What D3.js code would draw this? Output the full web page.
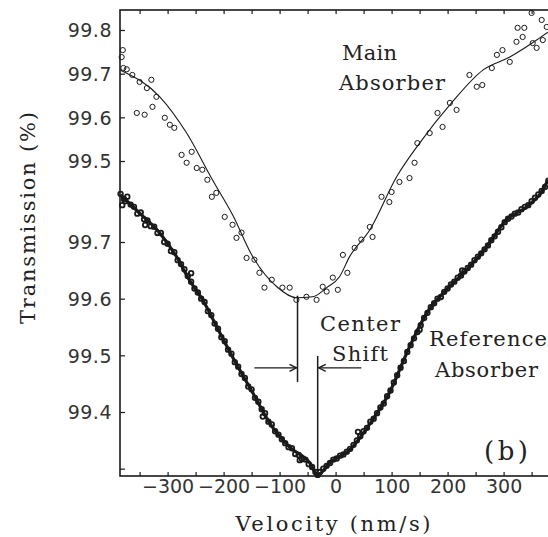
<!DOCTYPE html>
<html>
<head>
<meta charset="utf-8">
<script src="https://cdn.jsdelivr.net/npm/d3@7"></script>
<style>
  body { margin: 0; background: #fff; }
  svg { display: block; }
</style>
</head>
<body>
<svg id="chart"></svg>
<script>
// Mossbauer-style transmission spectra, main vs reference absorber

// velocity (nm/s), transmission (%) - main absorber, measured points
const mainVel = [-382,-380,-379,-373,-363,-350,-337,-329,-320,-355,-341,-327,-305,-296,-288,-275,-266,-257,-248,-238,
  -229,-221,-213,-198,-184,-177,-168,-159,-145,-136,-127,-114,-95,-82,-70,-52,-34,-23,-16,-5,
  4,13,21,34,46,66,61,82,96,100,114,132,141,146,168,182,191,204,216,239,
  252,262,279,288,298,311,323,325,337,334,352,359,370,368,350,377];
const mainT = [99.738,99.754,99.713,99.710,99.697,99.681,99.667,99.686,99.647,99.610,99.606,99.624,99.599,99.583,99.576,99.514,99.496,99.521,99.484,99.480,
  99.457,99.418,99.427,99.372,99.354,99.324,99.336,99.278,99.274,99.244,99.210,99.228,99.210,99.210,99.182,99.189,99.182,99.212,99.201,99.233,
  99.205,99.285,99.244,99.301,99.320,99.326,99.349,99.418,99.406,99.429,99.452,99.461,99.496,99.541,99.564,99.610,99.578,99.633,99.617,99.697,
  99.670,99.674,99.713,99.743,99.754,99.727,99.773,99.805,99.805,99.784,99.770,99.759,99.777,99.823,99.839,99.807];

// main absorber fitted curve
const mainFitVel = [-384,-314,-266,-220,-184,-148,-105,-70,-41,-16,7,25,61,109,150,207,263,311,359,379];
const mainFitT = [99.708,99.647,99.564,99.457,99.377,99.281,99.212,99.187,99.189,99.210,99.235,99.281,99.342,99.464,99.541,99.633,99.708,99.738,99.777,99.795];

// reference absorber, measured points
const refVel = [-384,-378,-372,-366,-360,-354,-348,-342,-336,-330,-324,-318,-312,-306,-300,-294,-288,-282,-276,-270,
  -264,-258,-252,-246,-240,-234,-228,-222,-216,-210,-204,-198,-192,-186,-180,-174,-168,-162,-156,-150,
  -144,-138,-132,-126,-120,-114,-108,-102,-96,-90,-84,-78,-72,-66,-60,-54,-48,-42,-36,-32,
  -28,-22,-16,-10,-4,2,8,14,20,26,32,38,44,50,56,62,68,74,80,86,
  92,98,104,110,116,122,128,134,140,146,152,158,164,170,176,182,188,194,200,206,
  212,218,224,230,236,242,248,254,260,266,272,278,284,290,296,302,308,314,320,326,
  332,338,344,350,356,362,368,374,380,-381,-376,-340,-258,-130,-64,40,150,226];
const refT = [99.785,99.776,99.780,99.766,99.762,99.750,99.752,99.740,99.738,99.728,99.727,99.716,99.716,99.700,99.697,99.684,99.682,99.668,99.661,99.652,
  99.640,99.630,99.618,99.611,99.600,99.594,99.578,99.571,99.556,99.547,99.532,99.525,99.510,99.503,99.488,99.480,99.467,99.460,99.445,99.440,
  99.425,99.418,99.405,99.398,99.383,99.378,99.366,99.360,99.352,99.345,99.338,99.336,99.326,99.324,99.317,99.316,99.308,99.303,99.294,99.289,
  99.294,99.300,99.305,99.310,99.316,99.318,99.323,99.325,99.330,99.335,99.342,99.350,99.357,99.366,99.372,99.383,99.388,99.398,99.408,99.415,
  99.428,99.438,99.452,99.465,99.478,99.490,99.506,99.518,99.530,99.541,99.553,99.566,99.575,99.585,99.592,99.600,99.603,99.612,99.618,99.625,
  99.630,99.637,99.641,99.648,99.654,99.660,99.668,99.674,99.680,99.687,99.694,99.703,99.710,99.718,99.726,99.735,99.741,99.745,99.750,99.752,
  99.758,99.762,99.765,99.772,99.778,99.784,99.790,99.797,99.808,99.765,99.772,99.730,99.645,99.392,99.315,99.365,99.545,99.650];

// reference absorber fitted curve
const refFitVel = [-384,-350,-314,-284,-261,-234,-212,-184,-148,-118,-82,-46,-32,-11,25,66,96,132,163,198,234,270,305,341,370,379];
const refFitT = [99.783,99.751,99.716,99.674,99.633,99.592,99.550,99.497,99.434,99.381,99.338,99.310,99.289,99.310,99.333,99.386,99.434,99.515,99.575,99.616,99.651,99.692,99.739,99.762,99.792,99.809];

// tick labels
const xTicks = [-300,-200,-100,0,100,200,300];
const upperTicks = [99.8,99.7,99.6,99.5];
const lowerTicks = [99.7,99.6,99.5,99.4];

// line centres used for the centre shift marks
const centerMain = -68;
const centerRef = -32;

const W = 548, H = 537;
const plotLeft = 120, plotBottom = 476, plotTop = 10;

const svg = d3.select("#chart")
    .attr("width", W)
    .attr("height", H);

const x = d3.scaleLinear()
    .domain([-385, 385])
    .range([plotLeft, plotLeft + 770 * 0.56]);

// two stacked scales sharing one frame
const yUp = d3.scaleLinear()
    .domain([99.8, 99.5])
    .range([30, 161]);

const yLow = d3.scaleLinear()
    .domain([99.7, 99.4])
    .range([242, 412]);

const ink = "#1a1a1a";
const tickFont = "'DejaVu Sans', sans-serif";
const textFont = "'DejaVu Serif', serif";

//frame
svg.append("rect")
    .attr("x", plotLeft)
    .attr("y", plotTop)
    .attr("width", x.range()[1] - plotLeft)
    .attr("height", plotBottom - plotTop)
    .attr("fill", "none")
    .attr("stroke", ink)
    .attr("stroke-width", 1.6);

//bottom axis - ticks point inwards
const xMinor = d3.range(-350, 400, 50);
svg.append("g")
    .attr("transform", `translate(0, ${plotBottom})`)
    .call(d3.axisTop(x).tickValues(xMinor).tickSize(4).tickFormat(""))
    .call(g => g.select(".domain").remove())
    .selectAll("line").attr("stroke", ink).attr("stroke-width", 1.2);

svg.append("g")
    .attr("transform", `translate(0, ${plotBottom})`)
    .call(d3.axisBottom(x).tickValues(xTicks).tickSize(0).tickPadding(10)
        .tickFormat(d => d < 0 ? "\u2212" + Math.abs(d) : d))
    .call(g => g.select(".domain").remove())
    .selectAll("text")
        .attr("font-family", tickFont)
        .attr("font-size", "19px")
        .attr("fill", "#333");

//top axis ticks
svg.append("g")
    .attr("transform", `translate(0, ${plotTop})`)
    .call(d3.axisBottom(x).tickValues(xMinor).tickSize(4).tickFormat(""))
    .call(g => g.select(".domain").remove())
    .selectAll("line").attr("stroke", ink).attr("stroke-width", 1.2);

//left axis, upper spectrum scale
svg.append("g")
    .attr("transform", `translate(${plotLeft}, 0)`)
    .call(d3.axisRight(yUp).tickValues(upperTicks).tickSize(5).tickFormat(""))
    .call(g => g.select(".domain").remove())
    .selectAll("line").attr("stroke", ink).attr("stroke-width", 1.2);

svg.append("g")
    .attr("transform", `translate(${plotLeft}, 0)`)
    .call(d3.axisLeft(yUp).tickValues(upperTicks).tickSize(0).tickPadding(8).tickFormat(d3.format(".1f")))
    .call(g => g.select(".domain").remove())
    .selectAll("text")
        .attr("font-family", tickFont)
        .attr("font-size", "19px")
        .attr("letter-spacing", "0.5px")
        .attr("fill", "#333");

//left axis, lower spectrum scale
svg.append("g")
    .attr("transform", `translate(${plotLeft}, 0)`)
    .call(d3.axisRight(yLow).tickValues(lowerTicks.concat([99.3])).tickSize(5).tickFormat(""))
    .call(g => g.select(".domain").remove())
    .selectAll("line").attr("stroke", ink).attr("stroke-width", 1.2);

svg.append("g")
    .attr("transform", `translate(${plotLeft}, 0)`)
    .call(d3.axisLeft(yLow).tickValues(lowerTicks).tickSize(0).tickPadding(8).tickFormat(d3.format(".1f")))
    .call(g => g.select(".domain").remove())
    .selectAll("text")
        .attr("font-family", tickFont)
        .attr("font-size", "19px")
        .attr("letter-spacing", "0.5px")
        .attr("fill", "#333");

svg.selectAll(".tick text").attr("dy", "0.36em");

const plot = svg.append("g");

//fitted curves
const upLine = d3.line()
    .x(d => x(d[0]))
    .y(d => yUp(d[1]))
    .curve(d3.curveMonotoneX);
const lowLine = d3.line()
    .x(d => x(d[0]))
    .y(d => yLow(d[1]))
    .curve(d3.curveMonotoneX);

plot.append("path")
    .attr("d", upLine(d3.zip(mainFitVel, mainFitT)))
    .attr("fill", "none")
    .attr("stroke", ink)
    .attr("stroke-width", 1.1);

plot.append("path")
    .attr("d", lowLine(d3.zip(refFitVel, refFitT)))
    .attr("fill", "none")
    .attr("stroke", ink)
    .attr("stroke-width", 3.2);

//measured points, open circles
plot.selectAll(".mainPt")
    .data(d3.zip(mainVel, mainT))
    .enter()
    .append("circle")
    .attr("class", "mainPt")
    .attr("cx", d => x(d[0]))
    .attr("cy", d => yUp(d[1]))
    .attr("r", 2.6)
    .attr("fill", "none")
    .attr("stroke", ink)
    .attr("stroke-width", 1);

plot.selectAll(".refPt")
    .data(d3.zip(refVel, refT))
    .enter()
    .append("circle")
    .attr("class", "refPt")
    .attr("cx", d => x(d[0]))
    .attr("cy", d => yLow(d[1]))
    .attr("r", 2.3)
    .attr("fill", "none")
    .attr("stroke", ink)
    .attr("stroke-width", 1.8);

//centre shift marks
const arrowY = yLow(99.478);
const mainMin = mainFitT[mainFitVel.indexOf(-70)];
svg.append("line")
    .attr("x1", x(centerMain)).attr("x2", x(centerMain))
    .attr("y1", yUp(mainMin) - 2).attr("y2", yLow(99.453))
    .attr("stroke", ink).attr("stroke-width", 1.5);
svg.append("line")
    .attr("x1", x(centerRef)).attr("x2", x(centerRef))
    .attr("y1", yLow(99.499)).attr("y2", plotBottom)
    .attr("stroke", ink).attr("stroke-width", 1.5);

function arrow(fromV, toV) {
    let x0 = x(fromV), x1 = x(toV);
    let dir = x1 > x0 ? 1 : -1;
    svg.append("line")
        .attr("x1", x0).attr("x2", x1 - dir * 1)
        .attr("y1", arrowY).attr("y2", arrowY)
        .attr("stroke", ink).attr("stroke-width", 1.3);
    svg.append("path")
        .attr("d", `M${x1 - dir * 8},${arrowY - 3.5} L${x1 - dir * 1},${arrowY} L${x1 - dir * 8},${arrowY + 3.5}`)
        .attr("fill", "none")
        .attr("stroke", ink)
        .attr("stroke-width", 1.3);
}
arrow(-145, centerMain);
arrow(46, centerRef);

//text labels
function label(txt, lx, ly, len, size) {
    svg.append("text")
        .attr("x", lx)
        .attr("y", ly)
        .attr("font-family", textFont)
        .attr("font-size", (size || 21) + "px")
        .attr("fill", "#222")
        .attr("textLength", len)
        .attr("lengthAdjust", "spacing")
        .text(txt);
}
label("Main", 342, 60, 55);
label("Absorber", 339, 90, 106);
label("Center", 320, 331, 80);
label("Shift", 332, 361, 56);
label("Reference", 429, 346, 118);
label("Absorber", 435, 377, 103);
label("(b)", 484, 460, 44, 26);

svg.append("text")
    .attr("x", 333)
    .attr("y", 531)
    .attr("text-anchor", "middle")
    .attr("font-family", textFont)
    .attr("font-size", "21px")
    .attr("fill", "#222")
    .attr("textLength", 195)
    .attr("lengthAdjust", "spacing")
    .text("Velocity (nm/s)");

svg.append("text")
    .attr("transform", "translate(35, 218) rotate(-90)")
    .attr("text-anchor", "middle")
    .attr("font-family", textFont)
    .attr("font-size", "21px")
    .attr("fill", "#222")
    .attr("textLength", 212)
    .attr("lengthAdjust", "spacing")
    .text("Transmission (%)");
</script>
</body>
</html>
